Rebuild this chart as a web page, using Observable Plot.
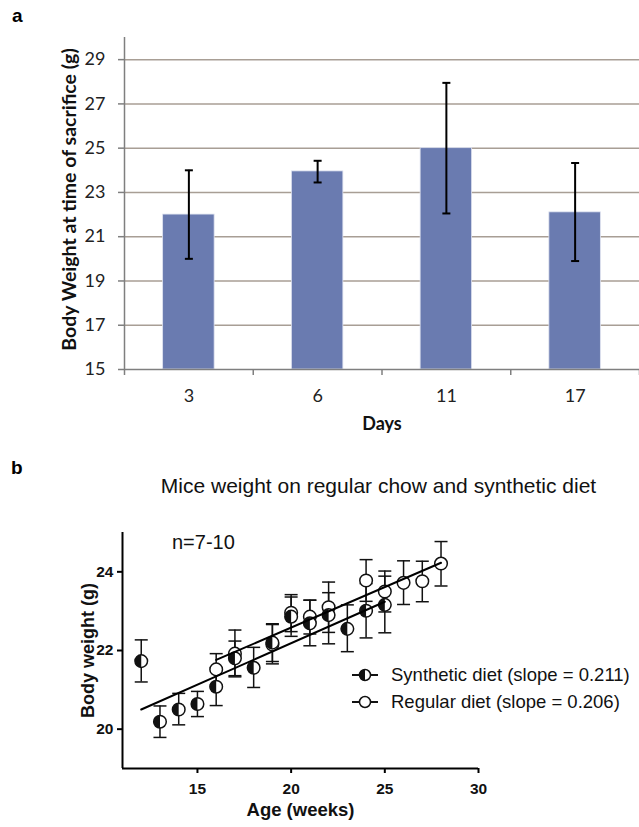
<!DOCTYPE html>
<html><head><meta charset="utf-8">
<script src="https://cdn.jsdelivr.net/npm/d3@7"></script>
<script src="https://cdn.jsdelivr.net/npm/@observablehq/plot@0.6"></script>
<style>
body{margin:0;background:#fff;width:639px;height:827px;position:relative;overflow:hidden;}
.abs{position:absolute;line-height:1;white-space:nowrap;}
#pa{left:0;top:0}
#pb{left:0;top:440px}
.panel{font-family:"Liberation Sans",Arial,sans-serif;font-weight:bold;font-size:19px;color:#000;}
.arial{font-family:"Liberation Sans",Arial,sans-serif;color:#111;}
.lrow{position:absolute;left:351px;display:flex;align-items:center;height:18px;font-size:18.5px;line-height:1;white-space:nowrap;}
.lrow svg{margin-right:12px;}
</style></head><body>
<div id="pa" class="abs"></div>
<div id="pb" class="abs"></div>
<div class="abs panel" style="left:12px;top:6px">a</div>
<div class="abs panel" style="left:11px;top:458px">b</div>
<div class="abs arial" style="left:0;width:757px;text-align:center;top:475px;font-size:21px">Mice weight on regular chow and synthetic diet</div>
<div class="abs arial" style="left:172px;top:532px;font-size:20px">n=7-10</div>
<div id="legend" class="arial"></div>
<script>
// ---------- Panel a data ----------
const days = ["3", "6", "11", "17"];
const bodyWeight = [22.0, 23.95, 25.0, 22.1];
const errLow = [20.0, 23.45, 22.05, 19.9];
const errHigh = [24.0, 24.43, 27.95, 24.33];
const yTicksA = [15, 17, 19, 21, 23, 25, 27, 29];

// ---------- Panel b data ----------
const synAge = [12, 13, 14, 15, 16, 17, 18, 19, 20, 21, 22, 23, 24, 25];
const synWeight = [21.73, 20.19, 20.5, 20.64, 21.08, 21.8, 21.56, 22.2, 22.86, 22.69, 22.9, 22.55, 23.01, 23.16];
const synLow = [21.2, 19.79, 20.11, 20.32, 20.6, 21.36, 21.06, 21.72, 22.36, 22.12, 22.17, 21.97, 22.32, 22.45];
const synHigh = [22.27, 20.59, 20.91, 20.96, 21.56, 22.24, 22.08, 22.68, 23.36, 23.28, 23.47, 23.16, 23.7, 23.89];

const regAge = [16, 17, 19, 20, 21, 22, 24, 25, 26, 27, 28];
const regWeight = [21.52, 21.92, 22.15, 22.96, 22.86, 23.1, 23.78, 23.5, 23.72, 23.76, 24.21];
const regLow = [21.12, 21.33, 21.66, 22.48, 22.42, 22.46, 23.25, 22.98, 23.17, 23.24, 23.64];
const regHigh = [21.92, 22.52, 22.66, 23.42, 23.28, 23.74, 24.31, 24.02, 24.28, 24.27, 24.77];

const synFitAge = [12, 25];
const synFitWeight = [20.5, 23.24];
const regFitAge = [16, 28];
const regFitWeight = [21.76, 24.23];

const xTicksB = [15, 20, 25, 30];
const yTicksB = [20, 22, 24];
const seriesNames = ["Synthetic diet (slope = 0.211)", "Regular diet (slope = 0.206)"];

// ---------- symbols ----------
const cap = (w) => ({draw(ctx) { ctx.moveTo(-w, 0); ctx.lineTo(w, 0); }});
const leftHalf = {draw(ctx, size) {
  const r = Math.sqrt(size / Math.PI);
  ctx.moveTo(0, -r); ctx.arc(0, 0, r, -Math.PI / 2, Math.PI / 2, true); ctx.closePath();
}};

// ---------- Panel a ----------
const barData = days.map((d, i) => ({i, day: d, w: bodyWeight[i], lo: errLow[i], hi: errHigh[i]}));
const plotA = Plot.plot({
  width: 639, height: 440,
  marginLeft: 124, marginRight: 0, marginTop: 37, marginBottom: 71,
  style: {fontFamily: "Lato, 'Liberation Sans', sans-serif", fontSize: "18px", color: "#222", background: "white"},
  x: {domain: [0, days.length], axis: null, label: null},
  y: {domain: [15, 30], axis: null, label: null},
  marks: [
    Plot.ruleY(yTicksA.filter(v => v > 15), {stroke: "#a89e95", strokeWidth: 1.5}),
    Plot.rectY(barData, {x1: d => d.i + 0.3, x2: d => d.i + 0.7, y1: 15, y2: "w", fill: "#6a7bb0", stroke: "#dfe3f0", strokeWidth: 0.8}),
    Plot.ruleX(barData, {x: d => d.i + 0.5, y1: "lo", y2: "hi", stroke: "#000", strokeWidth: 2}),
    Plot.dot(barData, {x: d => d.i + 0.5, y: "lo", symbol: cap(4), r: 4, stroke: "#000", strokeWidth: 2}),
    Plot.dot(barData, {x: d => d.i + 0.5, y: "hi", symbol: cap(4), r: 4, stroke: "#000", strokeWidth: 2}),
    Plot.ruleX([0], {stroke: "#7f7f7f", strokeWidth: 1.5}),
    Plot.ruleY([15], {stroke: "#7f7f7f", strokeWidth: 1.5}),
    Plot.axisY({ticks: yTicksA, tickSize: 6, tickPadding: 13, stroke: "#7f7f7f", strokeWidth: 1.5, label: null, fill: "#222"}),
    Plot.axisX({ticks: d3.range(days.length + 1), tickSize: 6, tickFormat: () => "", stroke: "#7f7f7f", strokeWidth: 1.5, label: null}),
    Plot.axisX({ticks: days.map((d, i) => i + 0.5), tickFormat: v => days[Math.floor(v)], tickSize: 0, tickPadding: 20, label: null, fill: "#222"}),
    Plot.text(["Days"], {frameAnchor: "bottom", dy: 60, fontSize: 18, fontWeight: "bold", fill: "#111"}),
    Plot.text(["Body Weight at time of sacrifice (g)"], {frameAnchor: "left", textAnchor: "middle", dx: -55, dy: -4, rotate: -90, fontSize: 19.5, fontWeight: "bold", fill: "#111"})
  ]
});
document.getElementById("pa").appendChild(plotA);

// ---------- Panel b ----------
const syn = synAge.map((a, i) => ({age: a, w: synWeight[i], lo: synLow[i], hi: synHigh[i]}));
const reg = regAge.map((a, i) => ({age: a, w: regWeight[i], lo: regLow[i], hi: regHigh[i]}));
const synFit = synFitAge.map((a, i) => ({age: a, w: synFitWeight[i]}));
const regFit = regFitAge.map((a, i) => ({age: a, w: regFitWeight[i]}));

function errMarks(data) {
  return [
    Plot.ruleX(data, {x: "age", y1: "lo", y2: "hi", stroke: "#111", strokeWidth: 1.5}),
    Plot.dot(data, {x: "age", y: "lo", symbol: cap(6.5), r: 6, stroke: "#111", strokeWidth: 1.5}),
    Plot.dot(data, {x: "age", y: "hi", symbol: cap(6.5), r: 6, stroke: "#111", strokeWidth: 1.5})
  ];
}

const plotB = Plot.plot({
  width: 639, height: 387,
  marginLeft: 122, marginRight: 161, marginTop: 92, marginBottom: 59,
  style: {fontFamily: "'Liberation Sans', Arial, sans-serif", fontSize: "15.5px", fontWeight: "bold", color: "#111", background: "white"},
  x: {domain: [11, 30], axis: null, label: null},
  y: {domain: [19, 25], axis: null, label: null},
  marks: [
    ...errMarks(syn),
    ...errMarks(reg),
    Plot.dot(reg, {x: "age", y: "w", r: 6.3, fill: "white", stroke: "#111", strokeWidth: 1.5}),
    Plot.dot(syn, {x: "age", y: "w", r: 6.3, fill: "white", stroke: "#111", strokeWidth: 1.5}),
    Plot.dot(syn, {x: "age", y: "w", r: 6.3, symbol: leftHalf, fill: "#111", stroke: "none"}),
    Plot.line(synFit, {x: "age", y: "w", stroke: "#000", strokeWidth: 2}),
    Plot.line(regFit, {x: "age", y: "w", stroke: "#000", strokeWidth: 2}),
    Plot.ruleX([11], {stroke: "#000", strokeWidth: 2}),
    Plot.ruleY([19], {stroke: "#000", strokeWidth: 2}),
    Plot.axisX({ticks: xTicksB, tickFormat: d => String(d), tickSize: 5, tickPadding: 9, strokeWidth: 2, stroke: "#000", label: null, fill: "#111"}),
    Plot.axisY({ticks: yTicksB, tickFormat: d => String(d), tickSize: 5, tickPadding: 4, strokeWidth: 2, stroke: "#000", label: null, fill: "#111"}),
    Plot.text(["Age (weeks)"], {frameAnchor: "bottom", dy: 47, fontSize: 18.5, fontWeight: "bold", fill: "#111"}),
    Plot.text(["Body weight (g)"], {frameAnchor: "left", textAnchor: "middle", dx: -34, rotate: -90, fontSize: 18, fontWeight: "bold", fill: "#111"})
  ]
});
document.getElementById("pb").appendChild(plotB);

// ---------- legend ----------
const legend = document.getElementById("legend");
const legendTops = [666, 693];
seriesNames.forEach((name, k) => {
  const row = document.createElement("div");
  row.className = "lrow";
  row.style.top = legendTops[k] + "px";
  const half = k === 0 ? '<path d="M14,1.5 A5.5,5.5 0 0 0 14,12.5 Z" fill="#111"/>' : '';
  row.innerHTML = `<svg width="28" height="14" viewBox="0 0 28 14"><line x1="1" y1="7" x2="27" y2="7" stroke="#111" stroke-width="2"/><circle cx="14" cy="7" r="5.5" fill="white" stroke="#111" stroke-width="1.5"/>${half}</svg><span>${name}</span>`;
  legend.appendChild(row);
});
</script>
</body></html>
